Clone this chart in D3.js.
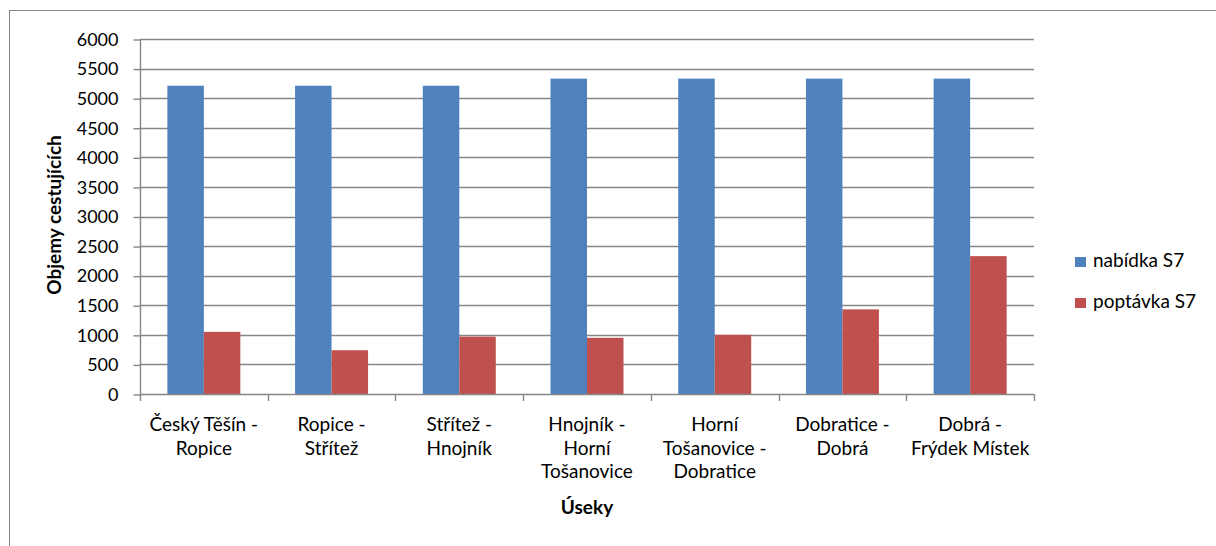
<!DOCTYPE html>
<html>
<head>
<meta charset="utf-8">
<script src="https://cdn.jsdelivr.net/npm/d3@7"></script>
<style>
  html, body { margin: 0; padding: 0; background: #fff; }
  svg { display: block; font-family: Lato, "Open Sans", sans-serif; }
</style>
</head>
<body>
<svg id="chart" width="1216" height="546"></svg>
<script>
// Road sections of line S7
const categories = [
  ["Český Těšín -", "Ropice"],
  ["Ropice -", "Střítež"],
  ["Střítež -", "Hnojník"],
  ["Hnojník -", "Horní", "Tošanovice"],
  ["Horní", "Tošanovice -", "Dobratice"],
  ["Dobratice -", "Dobrá"],
  ["Dobrá -", "Frýdek Místek"]
];
const seriesNames = ["nabídka S7", "poptávka S7"];
const supply = [5210, 5210, 5210, 5330, 5330, 5330, 5330];
const demand = [1050, 740, 970, 950, 1000, 1430, 2330];
const yTicks = [0, 500, 1000, 1500, 2000, 2500, 3000, 3500, 4000, 4500, 5000, 5500, 6000];
const colors = ["#4F81BD", "#C0504D"];

const svg = d3.select("#chart");
const plotLeft = 140, plotRight = 1034, plotTop = 39, plotBottom = 394;
const axisColor = "#868686";
const textSize = "19px";

// outer chart frame
svg.append("rect")
  .attr("x", 9.5).attr("y", 10.5)
  .attr("width", 1300).attr("height", 600)
  .attr("fill", "none").attr("stroke", axisColor).attr("stroke-width", 1);

const y = d3.scaleLinear().domain([0, 6000]).range([plotBottom, plotTop]);
const x = d3.scaleBand().domain(d3.range(categories.length)).range([plotLeft, plotRight]).padding(0);
const barW = x.bandwidth() / 3.5;
const x1 = d3.scaleBand().domain([0, 1]).range([barW * 0.75, barW * 2.75]).padding(0);

// horizontal gridlines
svg.append("g").selectAll("line").data(yTicks.slice(1)).join("line")
  .attr("x1", plotLeft).attr("x2", plotRight)
  .attr("y1", d => Math.round(y(d)) + 0.5).attr("y2", d => Math.round(y(d)) + 0.5)
  .attr("stroke", axisColor).attr("stroke-width", 1.4);

// bars
const rows = categories.map((c, i) => [supply[i], demand[i]]);
const groups = svg.append("g").selectAll("g").data(rows).join("g")
  .attr("transform", (d, i) => `translate(${x(i)},0)`);
groups.selectAll("rect").data(d => d.map((v, s) => ({ v, s }))).join("rect")
  .attr("x", d => x1(d.s))
  .attr("width", x1.bandwidth())
  .attr("y", d => y(d.v))
  .attr("height", d => y(0) - y(d.v))
  .attr("fill", d => colors[d.s]);

// y axis
const yAxis = d3.axisLeft(y).tickValues(yTicks).tickSize(7).tickPadding(15).tickFormat(d3.format("d"));
const gy = svg.append("g").attr("transform", `translate(${plotLeft + 0.5},0.5)`).call(yAxis);
gy.select(".domain").attr("stroke", axisColor).attr("stroke-width", 1.4).attr("d", `M0,${plotTop}V${plotBottom}`);
gy.selectAll(".tick line").attr("stroke", axisColor).attr("stroke-width", 1.4);
gy.selectAll(".tick text").attr("fill", "#000").style("font-size", "18px").style("font-family", "Lato, sans-serif");

// x axis: category boundary ticks
const gx = svg.append("g");
gx.append("line").attr("x1", plotLeft).attr("x2", plotRight)
  .attr("y1", plotBottom + 0.5).attr("y2", plotBottom + 0.5)
  .attr("stroke", axisColor).attr("stroke-width", 1.4);
gx.selectAll("line.tk").data(d3.range(categories.length + 1)).join("line").attr("class", "tk")
  .attr("x1", i => Math.round(plotLeft + i * x.bandwidth()) + 0.5)
  .attr("x2", i => Math.round(plotLeft + i * x.bandwidth()) + 0.5)
  .attr("y1", plotBottom).attr("y2", plotBottom + 7)
  .attr("stroke", axisColor).attr("stroke-width", 1.4);

// category labels
const lab = svg.append("g").selectAll("text").data(categories).join("text")
  .attr("text-anchor", "middle")
  .style("font-size", textSize)
  .attr("fill", "#000");
lab.selectAll("tspan").data((d, i) => d.map(t => ({ t, i }))).join("tspan")
  .attr("x", d => x(d.i) + x.bandwidth() / 2)
  .attr("y", (d, j) => 431 + j * 23.5)
  .text(d => d.t);

// axis titles
svg.append("text")
  .attr("x", 587).attr("y", 514).attr("text-anchor", "middle")
  .style("font-size", textSize).style("font-weight", "bold").text("Úseky");
svg.append("text")
  .attr("transform", "translate(61,215) rotate(-90)").attr("text-anchor", "middle")
  .style("font-size", textSize).style("font-weight", "bold").text("Objemy cestujících");

// legend
const leg = svg.append("g").selectAll("g").data(seriesNames).join("g")
  .attr("transform", (d, i) => `translate(1075,${257 + i * 41})`);
leg.append("rect").attr("width", 11).attr("height", 10).attr("fill", (d, i) => colors[i]);
leg.append("text").attr("x", 18).attr("y", 10)
  .style("font-size", textSize).attr("fill", "#000").text(d => d);
</script>
</body>
</html>
